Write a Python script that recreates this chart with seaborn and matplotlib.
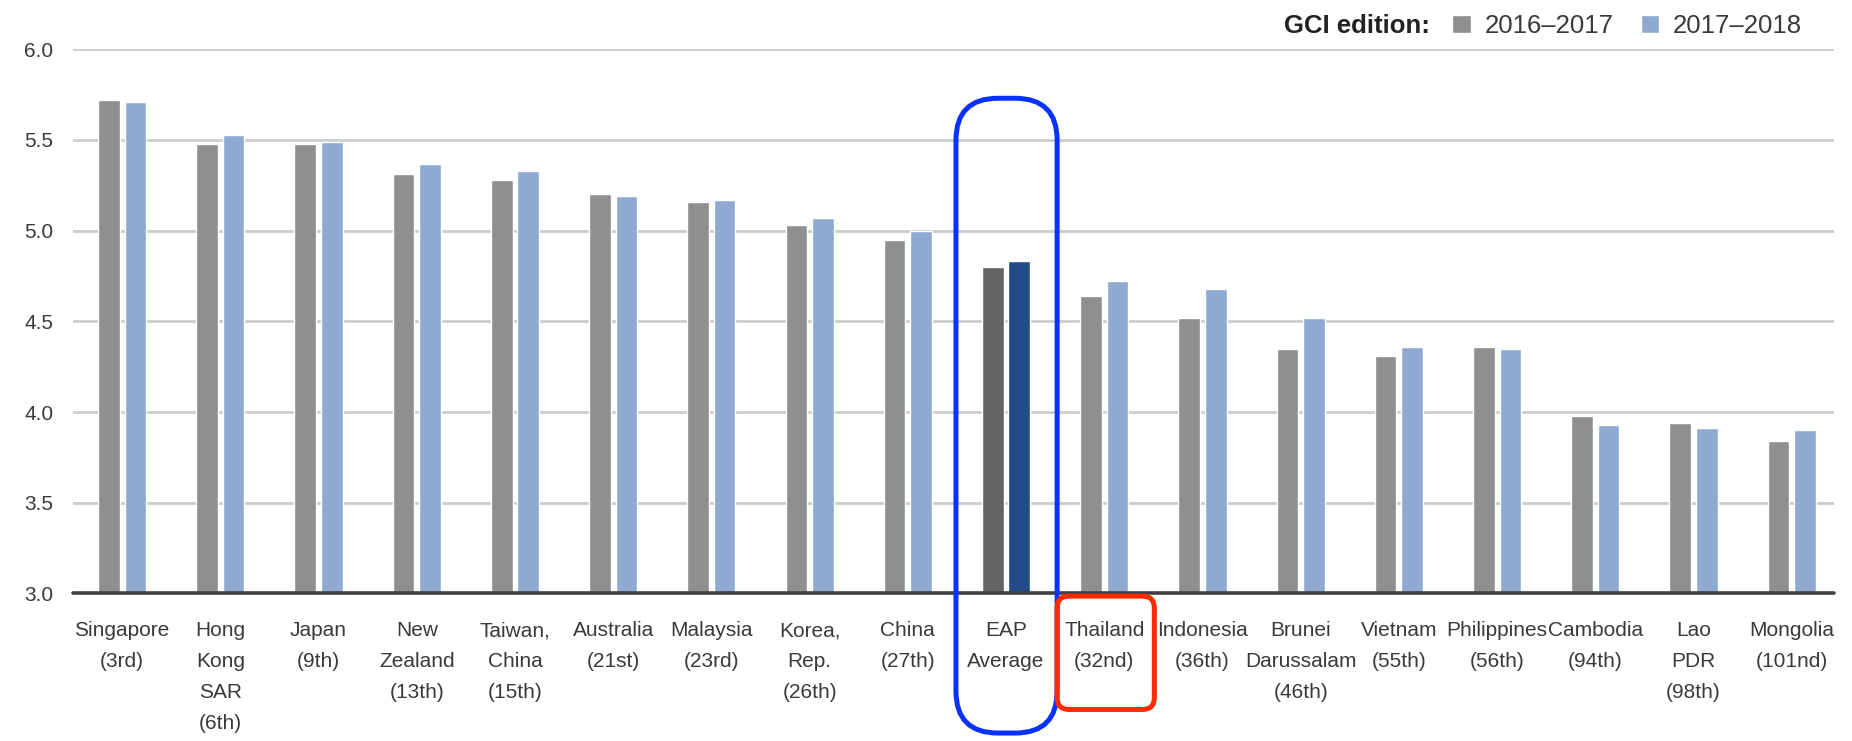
import matplotlib
matplotlib.use("Agg")
import matplotlib.pyplot as plt
import seaborn as sns
import pandas as pd
from matplotlib.patches import FancyBboxPatch

# ---- data ----
countries = [
    "Singapore\n(3rd)", "Hong\nKong\nSAR\n(6th)", "Japan\n(9th)", "New\nZealand\n(13th)",
    "Taiwan,\nChina\n(15th)", "Australia\n(21st)", "Malaysia\n(23rd)", "Korea,\nRep.\n(26th)",
    "China\n(27th)", "EAP\nAverage", "Thailand\n(32nd)", "Indonesia\n(36th)",
    "Brunei\nDarussalam\n(46th)", "Vietnam\n(55th)", "Philippines\n(56th)", "Cambodia\n(94th)",
    "Lao\nPDR\n(98th)", "Mongolia\n(101nd)",
]
editions = ["2016–2017", "2017–2018"]
gci_2016_2017 = [5.72, 5.48, 5.48, 5.31, 5.28, 5.20, 5.16, 5.03, 4.95, 4.80,
                 4.64, 4.52, 4.35, 4.31, 4.36, 3.98, 3.94, 3.84]
gci_2017_2018 = [5.71, 5.53, 5.49, 5.37, 5.33, 5.19, 5.17, 5.07, 5.00, 4.83,
                 4.72, 4.68, 4.52, 4.36, 4.35, 3.93, 3.91, 3.90]
y_ticks = [3.0, 3.5, 4.0, 4.5, 5.0, 5.5, 6.0]
legend_title = "GCI edition:"
highlight_avg = "EAP\nAverage"
highlight_country = "Thailand\n(32nd)"

df = pd.DataFrame({
    "country": countries * 2,
    "edition": [editions[0]] * len(countries) + [editions[1]] * len(countries),
    "score": gci_2016_2017 + gci_2017_2018,
})

# ---- style ----
sns.set_theme(style="white")
plt.rcParams["font.family"] = ["Liberation Sans", "DejaVu Sans"]
TXT = "#3a3a3a"
GRAY, BLUE = "#8f8f8f", "#8eaad0"
DGRAY, DBLUE = "#646464", "#224c87"

W, H, DPI = 1852, 741, 100
fig = plt.figure(figsize=(W / DPI, H / DPI), dpi=DPI)
ax = fig.add_axes([73 / W, 1 - 593.4 / H, (1834 - 73) / W, (593.4 - 49.3) / H])

sns.barplot(data=df, x="country", y="score", hue="edition", palette=[GRAY, BLUE],
            width=0.54, gap=0.185, saturation=1, ax=ax, errorbar=None, zorder=3)

# highlight EAP average bars
i_avg = countries.index(highlight_avg)
ax.containers[0][i_avg].set_facecolor(DGRAY)
ax.containers[1][i_avg].set_facecolor(DBLUE)

ax.set_ylim(3.0, 6.0)
ax.set_xlim(-0.5, 17.43)
ax.set_yticks(y_ticks)
ax.set_yticklabels([f"{v:.1f}" for v in y_ticks])
ax.set_xlabel("")
ax.set_ylabel("")
for s in ax.spines.values():
    s.set_visible(False)
ax.set_axisbelow(True)
ax.yaxis.grid(True, color="#cccccc", linewidth=2)
ax.axhline(3.0, color="#404040", linewidth=2.6, zorder=4, clip_on=False)

ax.tick_params(axis="y", length=0, pad=14, labelsize=15, labelcolor=TXT)
ax.tick_params(axis="x", length=0, pad=20, labelsize=15, labelcolor=TXT)
for t in ax.get_xticklabels():
    t.set_linespacing(1.8)

# legend
sns.move_legend(ax, "center left", bbox_to_anchor=(1452 / W, 1 - 26 / H),
                bbox_transform=fig.transFigure, ncol=2, frameon=False, title=None,
                fontsize=18.5, handlelength=0.72, handleheight=0.72, handletextpad=0.55,
                columnspacing=1.05, borderaxespad=0, borderpad=0)
for t in ax.get_legend().get_texts():
    t.set_color(TXT)
fig.text(1284 / W, 1 - 26 / H, legend_title, fontsize=18.5, fontweight="bold",
         color="#222222", ha="left", va="center")

# highlight boxes (positioned in data coordinates, drawn in display space)
def add_box(x0, x1, y0, y1, color, radius, lw):
    p0 = ax.transData.transform((x0, y0)) / DPI
    p1 = ax.transData.transform((x1, y1)) / DPI
    box = FancyBboxPatch((p0[0], p0[1]), p1[0] - p0[0], p1[1] - p0[1],
                         boxstyle=f"round,pad=0,rounding_size={radius}",
                         transform=fig.dpi_scale_trans, fill=False,
                         edgecolor=color, linewidth=lw, zorder=10)
    fig.add_artist(box)

i_th = countries.index(highlight_country)
add_box(i_avg - 0.51, i_avg + 0.52, 2.23, 5.73, "#0a32ff", 0.42, 3.6)
add_box(i_th - 0.48, i_th + 0.51, 2.36, 2.985, "#ff2a00", 0.12, 3.6)

fig.savefig("out.png", dpi=DPI)
